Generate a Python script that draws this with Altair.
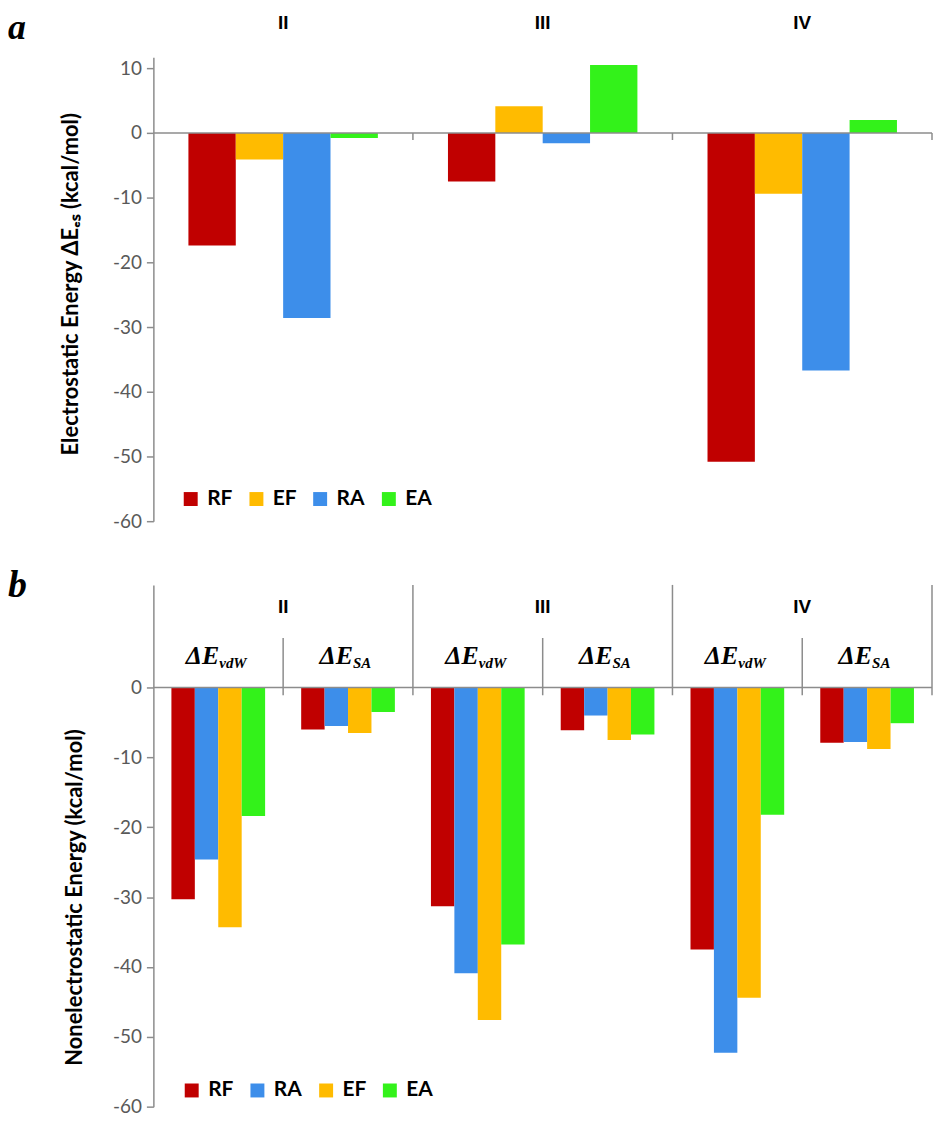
import altair as alt
import pandas as pd

# ---------------- data ----------------
groups = ["II", "III", "IV"]

# panel a : electrostatic energy
es_series = ["RF", "EF", "RA", "EA"]
es_RF = [-17.4, -7.5, -50.8]
es_EF = [-4.1, 4.1, -9.4]
es_RA = [-28.6, -1.6, -36.7]
es_EA = [-0.8, 10.5, 2.0]

# panel b : nonelectrostatic energy
terms = ["vdW", "SA"]
nes_series = ["RF", "RA", "EF", "EA"]
nes_RF = [-30.3, -6.0, -31.3, -6.1, -37.5, -7.9]
nes_RA = [-24.6, -5.5, -40.9, -4.0, -52.3, -7.8]
nes_EF = [-34.3, -6.5, -47.6, -7.5, -44.4, -8.8]
nes_EA = [-18.4, -3.5, -36.8, -6.7, -18.2, -5.1]

colors = {"RF": "#C00000", "EF": "#FFBB00", "RA": "#3D8EEA", "EA": "#33F21A"}

# ---------------- tables ----------------
es_vals = {"RF": es_RF, "EF": es_EF, "RA": es_RA, "EA": es_EA}
df_es = pd.DataFrame(
    [{"group": g, "series": s, "value": es_vals[s][i]}
     for s in es_series for i, g in enumerate(groups)]
)

sub_keys = [f"{g} {t}" for g in groups for t in terms]
df_sub = pd.DataFrame(
    [{"sub": f"{g} {t}", "group": g, "term": t} for g in groups for t in terms]
)
nes_vals = {"RF": nes_RF, "RA": nes_RA, "EF": nes_EF, "EA": nes_EA}
df_nes = pd.DataFrame(
    [{"sub": k, "series2": s, "value": nes_vals[s][i]}
     for s in nes_series for i, k in enumerate(sub_keys)]
)
df_groups = pd.DataFrame({"group": groups})
one = pd.DataFrame({"a": [0]})

GRAY = "#8C8C8C"
W = 782
H1 = 466
H2 = 524
SANS = "Lato"
SERIF = "Liberation Serif"


def y_axis(vals):
    return alt.Axis(values=vals, labelExpr="datum.value + ''", grid=False,
                    domainColor=GRAY, domainWidth=1.5, tickColor=GRAY,
                    tickWidth=1.5, tickSize=7, labelPadding=5,
                    labelColor="#595959", labelFontSize=19, labelFont=SANS)


def legend(x, y):
    return alt.Legend(title=None, orient="none", legendX=x, legendY=y,
                      direction="horizontal", symbolType="square",
                      symbolSize=196, symbolStrokeWidth=0, labelFont=SANS,
                      labelFontWeight="bold", labelFontSize=21,
                      labelColor="black", labelOffset=6, columnPadding=13,
                      padding=0)


# ---------------- panel a ----------------
xs1 = alt.Scale(domain=groups, paddingInner=0, paddingOuter=0)
ys1 = alt.Scale(domain=[-60, 11.7], nice=False)

bars1 = alt.Chart(df_es).mark_bar().encode(
    x=alt.X("group:N", scale=xs1, axis=None),
    xOffset=alt.XOffset("series:N", sort=es_series,
                        scale=alt.Scale(domain=es_series, paddingInner=0,
                                        paddingOuter=0.74)),
    y=alt.Y("value:Q", scale=ys1, title="",
            axis=y_axis(list(range(10, -61, -10)))),
    color=alt.Color("series:N",
                    scale=alt.Scale(domain=es_series,
                                    range=[colors[s] for s in es_series]),
                    legend=legend(27, 433)),
)
zero1 = alt.Chart(one).mark_rule(color=GRAY, strokeWidth=1.5).encode(
    y=alt.datum(0))
ticks1 = alt.Chart(df_groups).mark_rule(color=GRAY, strokeWidth=1.5).encode(
    x=alt.X("group:N", scale=xs1, axis=None, bandPosition=1),
    y=alt.datum(0), y2=alt.datum(-1.1))
labels1 = alt.Chart(df_groups).mark_text(
    font="Liberation Sans", fontWeight="bold", fontSize=19, color="black",
    baseline="middle").encode(
    x=alt.X("group:N", scale=xs1, axis=None), y=alt.value(-34),
    text="group:N")
title1 = alt.Chart(one).mark_text(
    text="Electrostatic Energy ΔEₑₛ (kcal/mol)", angle=270, font=SANS,
    fontWeight="bold", fontSize=22, color="black", baseline="middle",
    align="center").encode(x=alt.value(-83), y=alt.value(228))
letter_a = alt.Chart(one).mark_text(
    text="a", font=SERIF, fontStyle="italic", fontWeight="bold", fontSize=36,
    color="black", align="left", baseline="alphabetic").encode(
    x=alt.value(-146), y=alt.value(-18))

top = alt.layer(bars1, zero1, ticks1, labels1, title1, letter_a).properties(
    width=W, height=H1)

# ---------------- panel b ----------------
xs2 = alt.Scale(domain=sub_keys, paddingInner=0, paddingOuter=0)
ys2 = alt.Scale(domain=[-60, 14.7], nice=False)

bars2 = alt.Chart(df_nes).mark_bar().encode(
    x=alt.X("sub:N", scale=xs2, axis=None),
    xOffset=alt.XOffset("series2:N", sort=nes_series,
                        scale=alt.Scale(domain=nes_series, paddingInner=0,
                                        paddingOuter=0.77)),
    y=alt.Y("value:Q", scale=ys2, title="",
            axis=y_axis(list(range(0, -61, -10)))),
    color=alt.Color("series2:N",
                    scale=alt.Scale(domain=nes_series,
                                    range=[colors[s] for s in nes_series]),
                    legend=legend(28, 497)),
)
zero2 = alt.Chart(one).mark_rule(color=GRAY, strokeWidth=1.5).encode(
    y=alt.datum(0))
long_lines = alt.Chart(df_sub).transform_filter(
    alt.datum.term == "SA").mark_rule(color=GRAY, strokeWidth=1.5).encode(
    x=alt.X("sub:N", scale=xs2, axis=None, bandPosition=1),
    y=alt.datum(14.7), y2=alt.datum(-1.1))
short_lines = alt.Chart(df_sub).transform_filter(
    alt.datum.term == "vdW").mark_rule(color=GRAY, strokeWidth=1.5).encode(
    x=alt.X("sub:N", scale=xs2, axis=None, bandPosition=1),
    y=alt.datum(7.1), y2=alt.datum(-1.1))
glabels2 = alt.Chart(df_sub).transform_filter(
    alt.datum.term == "SA").mark_text(
    font="Liberation Sans", fontWeight="bold", fontSize=19, color="black",
    baseline="middle").encode(
    x=alt.X("sub:N", scale=xs2, axis=None, bandPosition=0),
    y=alt.datum(11.5), text="group:N")


def de_layers(term, dx):
    base = alt.Chart(df_sub).transform_filter(alt.datum.term == term)
    main = base.mark_text(text="ΔE", font=SERIF, fontStyle="italic",
                          fontWeight="bold", fontSize=26, color="black",
                          align="right", baseline="alphabetic", dx=dx).encode(
        x=alt.X("sub:N", scale=xs2, axis=None), y=alt.datum(3.42))
    subs = base.mark_text(font=SERIF, fontStyle="italic", fontWeight="bold",
                          fontSize=15, color="black", align="left",
                          baseline="alphabetic", dx=dx).encode(
        x=alt.X("sub:N", scale=xs2, axis=None), y=alt.datum(2.85),
        text="term:N")
    return [main, subs]


title2 = alt.Chart(one).mark_text(
    text="Nonelectrostatic Energy (kcal/mol)", angle=270, font=SANS,
    fontWeight="bold", fontSize=22, color="black", baseline="middle",
    align="center").encode(x=alt.value(-79), y=alt.value(314))
letter_b = alt.Chart(one).mark_text(
    text="b", font=SERIF, fontStyle="italic", fontWeight="bold", fontSize=38,
    color="black", align="left", baseline="alphabetic").encode(
    x=alt.value(-146), y=alt.value(12))

bottom = alt.layer(bars2, zero2, long_lines, short_lines, glabels2,
                   *de_layers("vdW", 1), *de_layers("SA", 5),
                   title2, letter_b).properties(width=W, height=H2)

chart = alt.vconcat(
    top, bottom, spacing=64, bounds="flush", padding=0
).resolve_scale(color="independent", x="independent", y="independent",
                xOffset="independent").configure_view(strokeWidth=0)

chart.save("out.html", embed_options={"renderer": "svg", "actions": False})
